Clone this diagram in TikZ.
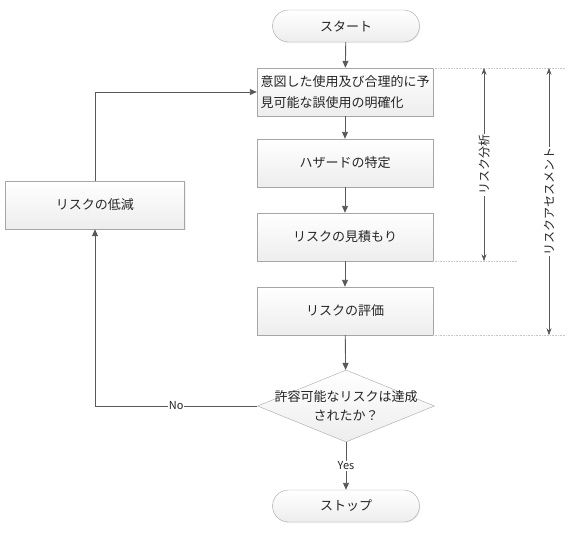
\documentclass[tikz,border=0pt]{standalone}
\usepackage{fontspec}
\setmainfont{Noto Sans CJK JP}
\usetikzlibrary{arrows.meta,shapes.geometric,shadows,calc}
\definecolor{linegray}{HTML}{595959}
\definecolor{edgegray}{HTML}{A6A6A6}
\definecolor{refgray}{HTML}{C8C8C8}

\tikzset{
  every node/.style={font=\fontsize{13}{21}\selectfont, text=black!85},
  box/.style={draw=edgegray, top color=white, bottom color=gray!14,
    minimum width=176pt, minimum height=48pt, inner sep=2pt,
    drop shadow={shadow xshift=1pt, shadow yshift=-1pt, opacity=0.12}},
  terminal/.style={box, rounded corners=16pt, minimum width=147pt, minimum height=32pt},
  decision/.style={diamond, draw=edgegray, top color=white, bottom color=gray!14,
    minimum width=177pt, minimum height=72pt, inner sep=0pt},
  flow/.style={draw=linegray, line width=0.9pt, -{Triangle[length=7pt,width=6pt]}},
  dim/.style={draw=linegray, line width=0.6pt,
    {Stealth[length=7pt,width=5pt]}-{Stealth[length=7pt,width=5pt]}},
  refline/.style={draw=refgray, line width=0.6pt, densely dotted},
  vlabel/.style={fill=white, rotate=90, inner sep=1pt, font=\fontsize{12}{14}\selectfont},
  answer/.style={fill=white, inner sep=1pt, font=\fontsize{11}{13}\selectfont}
}

\begin{document}
\begin{tikzpicture}[x=1pt, y=-1pt]
  \useasboundingbox (0,0) rectangle (571,538);
  % Main flow
  \node[terminal] (start) at (346,26) {スタート};
  \node[box, align=left] (clarify) at (345,92) {意図した使用及び合理的に予\\見可能な誤使用の明確化};
  \node[box] (hazard) at (345,163) {ハザードの特定};
  \node[box] (estimate) at (345,237) {リスクの見積もり};
  \node[box] (evaluate) at (345,311) {リスクの評価};
  \node[decision, label={[align=center, font=\fontsize{13}{19}\selectfont]center:許容可能なリスクは達成\\されたか？}] (accept) at (346,406) {};
  \node[terminal] (stop) at (346,506) {ストップ};
  % Feedback
  \node[box, minimum width=179pt] (reduce) at (95,205) {リスクの低減};
  \draw[flow] (start) -- (clarify);
  \draw[flow] (clarify) -- (hazard);
  \draw[flow] (hazard) -- (estimate);
  \draw[flow] (estimate) -- (evaluate);
  \draw[flow] (evaluate) -- (accept);
  \draw[flow] (accept) -- node[answer] {Yes} (stop);
  \draw[flow] (accept.west) -| node[answer, pos=0.25] {No} (reduce.south);
  \draw[flow] (reduce.north) |- (clarify.west);
  % Ranges
  \coordinate (analysis) at (484,0);
  \coordinate (assess) at (549,0);
  \draw[refline] (clarify.north east) -- ++(132,0);
  \draw[refline] (estimate.south east) -- ++(84,0);
  \draw[refline] (evaluate.south east) -- ++(132,0);
  \draw[dim] (analysis |- clarify.north) -- node[vlabel] {リスク分析} (analysis |- estimate.south);
  \draw[dim] (assess |- clarify.north) -- node[vlabel] {リスクアセスメント} (assess |- evaluate.south);
\end{tikzpicture}
\end{document}
